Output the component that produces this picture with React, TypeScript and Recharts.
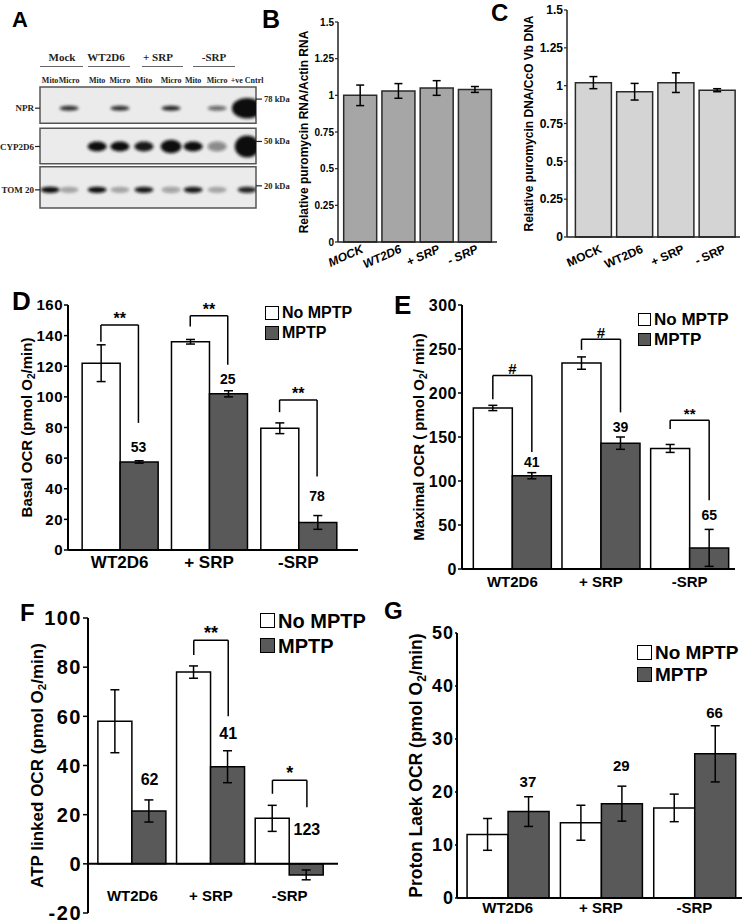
import React from "react";
import {
  Bar,
  BarChart,
  ErrorBar,
  Legend,
  ReferenceArea,
  ReferenceDot,
  ReferenceLine,
  Scatter,
  ScatterChart,
  XAxis,
  YAxis,
} from "recharts";

const SANS = "'Liberation Sans', Arial, Helvetica, sans-serif";
const SERIF = "'Liberation Serif', 'Times New Roman', serif";

// A: western blot, band strength per lane (0 = nothing)
const lanes = ["Mito", "Micro", "Mito", "Micro", "Mito", "Micro", "Mito", "Micro", "+ve Cntrl"];
const laneX = [0.42, 1.21, 2.38, 3.33, 4.33, 5.46, 6.38, 7.38, 8.63];
const laneGroups = ["Mock", "WT2D6", "+ SRP", "-SRP"];
const blotRows = ["NPR", "CYP2D6", "TOM 20"];
const sizeMarkers = ["78 kDa", "50 kDa", "20 kDa"];
const nprBand = [0, 0.85, 0, 0.85, 0, 0.9, 0, 0.6, 1.6];
const cypBand = [0, 0, 1, 1, 0.95, 1.1, 1, 0.45, 1.3];
const tomBand = [1, 0.3, 1, 0.3, 0.95, 0.35, 0.95, 0.3, 0.9];

// B, C
const transfectants = ["MOCK", "WT2D6", "+ SRP", "- SRP"];
const rnaRatio = [1.0, 1.03, 1.05, 1.04];
const rnaErr = [0.07, 0.05, 0.05, 0.02];
const dnaRatio = [1.02, 0.96, 1.02, 0.97];
const dnaErr = [0.04, 0.055, 0.065, 0.01];
const ratioTicks = [0, 0.25, 0.5, 0.75, 1, 1.25, 1.5];

// D-G
const treatments = ["WT2D6", "+ SRP", "-SRP"];
const seriesNames = ["No MPTP", "MPTP"];

const basalNo = [122, 136, 79.5];
const basalNoErr = [12, 1.5, 3.5];
const basalMptp = [57.5, 102, 18];
const basalMptpErr = [0.8, 2, 4.5];
const basalPct = ["53", "25", "78"];
const basalPctY = [67, 112, 35];
const basalMarks = [
  { group: 0, from: 136, top: 147, to: 83, mark: "**" },
  { group: 1, from: 146, top: 153, to: 121, mark: "**" },
  { group: 2, from: 90, top: 98, to: 48, mark: "**" },
];

const maxNo = [183, 234, 137];
const maxNoErr = [3, 7, 4.5];
const maxMptp = [106, 143, 24];
const maxMptpErr = [3.5, 7, 21];
const maxPct = ["41", "39", "65"];
const maxPctY = [122, 161, 61];
const maxMarks = [
  { group: 0, from: 193, top: 220, to: 133, mark: "#" },
  { group: 1, from: 249, top: 261, to: 178, mark: "#" },
  { group: 2, from: 159, top: 169, to: 78, mark: "**" },
];

const atpNo = [58, 78, 18.5];
const atpNoErr = [12.8, 2.5, 5.3];
const atpMptp = [21.5, 39.5, -4.5];
const atpMptpErr = [4.5, 6.5, 2];
const atpPct = ["62", "41", "123"];
const atpPctY = [34.5, 53, 14];
const atpMarks = [
  { group: 1, from: 85, top: 91, to: 60, mark: "**" },
  { group: 2, from: 28.5, top: 34, to: 23, mark: "*" },
];

const leakNo = [12, 14.2, 17];
const leakNoErr = [3, 3.3, 2.6];
const leakMptp = [16.3, 17.8, 27.2];
const leakMptpErr = [2.8, 3.3, 5.3];
const leakPct = ["37", "29", "66"];
const leakPctY = [22, 25, 35];

type Bracket = { group: number; from: number; top: number; to: number; mark: string };

function NumTick({ x, y, payload, font, spacing }: any) {
  return (
    <text
      x={x}
      y={y}
      dy="0.36em"
      textAnchor="end"
      fontFamily={SANS}
      fontWeight="bold"
      fontSize={font}
      fill="#000"
      style={{ letterSpacing: spacing }}
    >
      {payload.value}
    </text>
  );
}

function AxisTitle({ x, y, size, head, sub, tail }: any) {
  return (
    <text
      transform={`translate(${x},${y}) rotate(-90)`}
      textAnchor="middle"
      dominantBaseline="central"
      fontFamily={SANS}
      fontWeight="bold"
      fontSize={size}
      fill="#000"
    >
      {head}
      {sub ? (
        <tspan fontSize={size * 0.68} dy={size * 0.32}>
          {sub}
        </tspan>
      ) : null}
      {sub ? <tspan dy={-size * 0.32}>{tail}</tspan> : null}
    </text>
  );
}

function KeyBox({ payload, font, box, row }: any) {
  const items = [...(payload ?? [])].sort(
    (a: any, b: any) => seriesNames.indexOf(a.value) - seriesNames.indexOf(b.value)
  );
  return (
    <div style={{ fontFamily: SANS }}>
      {items.map((p: any) => (
        <div
          key={p.value}
          style={{ display: "flex", alignItems: "center", height: row, whiteSpace: "nowrap" }}
        >
          <span
            style={{
              display: "inline-block",
              width: box,
              height: box,
              boxSizing: "border-box",
              border: "1.5px solid #000",
              background: p.color,
              marginRight: 3,
            }}
          />
          <span style={{ fontSize: font, fontWeight: "bold", color: "#000", lineHeight: 1 }}>
            {p.value}
          </span>
        </div>
      ))}
    </div>
  );
}

function PanelLetter({ text, left, top, size }: any) {
  return (
    <div
      style={{
        position: "absolute",
        left,
        top,
        fontFamily: SANS,
        fontWeight: "bold",
        fontSize: size,
        lineHeight: 1,
        color: "#000",
      }}
    >
      {text}
    </div>
  );
}

const bandRy = [2.5, 5, 3.2];

function Band({ cx, cy, payload }: any) {
  const lvl = payload.level;
  const grow = Math.max(1, lvl);
  return (
    <ellipse
      cx={cx}
      cy={cy}
      rx={9.5 * grow}
      ry={bandRy[payload.row] * grow ** 3}
      fill="#111"
      fillOpacity={Math.min(1, lvl)}
      filter="url(#bandBlur)"
    />
  );
}

function BlotPanel() {
  const rowY = [2.1, 5.9, 10.2];
  const frames = [
    [0, 3.6],
    [4.1, 7.6],
    [7.9, 12],
  ];
  const markerY = [1.2, 5.4, 9.8];
  const bands = [nprBand, cypBand, tomBand]
    .flatMap((levels, row) =>
      levels.map((level, i) => ({ lane: laneX[i], y: rowY[row], level, row }))
    )
    .filter((b) => b.level > 0);
  const headers = [
    { c: 62, w: 43, l: 40 },
    { c: 106, w: 42, l: 88 },
    { c: 158, w: 41, l: 142 },
    { c: 214, w: 42, l: 193 },
  ];
  return (
    <>
      {laneGroups.map((g, i) => (
        <div key={g}>
          <div
            style={{
              position: "absolute",
              left: headers[i].c - 30,
              width: 60,
              top: 51,
              textAlign: "center",
              fontFamily: SERIF,
              fontWeight: "bold",
              fontSize: 11,
              color: "#222",
            }}
          >
            {g}
          </div>
          <div
            style={{
              position: "absolute",
              left: headers[i].l,
              width: headers[i].w,
              top: 66,
              height: 0,
              borderTop: "1px solid #666",
            }}
          />
        </div>
      ))}
      <div style={{ position: "absolute", left: 0, top: 40 }}>
        <ScatterChart width={296} height={175} margin={{ top: 33, right: 0, bottom: 7, left: 0 }}>
          <defs>
            <filter id="bandBlur" x="-50%" y="-150%" width="200%" height="400%">
              <feGaussianBlur stdDeviation="1.4" />
            </filter>
          </defs>
          <XAxis
            type="number"
            dataKey="lane"
            orientation="top"
            domain={[0, 9]}
            allowDataOverflow
            ticks={laneX}
            interval={0}
            height={14}
            axisLine={false}
            tickLine={false}
            tickSize={0}
            tickMargin={0}
            tick={(p: any) => (
              <text
                x={p.x}
                y={p.y - 4}
                textAnchor="middle"
                fontFamily={SERIF}
                fontWeight="bold"
                fontSize={8}
                fill="#222"
              >
                {lanes[laneX.indexOf(p.payload.value)]}
              </text>
            )}
          />
          <YAxis
            type="number"
            dataKey="y"
            domain={[0, 12]}
            allowDataOverflow
            reversed
            ticks={rowY}
            interval={0}
            width={40}
            axisLine={false}
            tickLine={{ stroke: "#222", strokeWidth: 1.2 }}
            tickSize={5}
            tickMargin={1}
            tick={(p: any) => (
              <text
                x={p.x}
                y={p.y}
                dy="0.35em"
                textAnchor="end"
                fontFamily={SERIF}
                fontWeight="bold"
                fontSize={9}
                fill="#222"
              >
                {blotRows[rowY.indexOf(p.payload.value)]}
              </text>
            )}
          />
          <YAxis
            yAxisId="kda"
            orientation="right"
            type="number"
            domain={[0, 12]}
            allowDataOverflow
            reversed
            ticks={markerY}
            interval={0}
            width={40}
            axisLine={false}
            tickLine={{ stroke: "#222", strokeWidth: 1.2 }}
            tickSize={6}
            tickMargin={2}
            tick={(p: any) => (
              <text
                x={p.x}
                y={p.y}
                dy="0.35em"
                textAnchor="start"
                fontFamily={SERIF}
                fontWeight="bold"
                fontSize={8.5}
                fill="#222"
              >
                {sizeMarkers[markerY.indexOf(p.payload.value)]}
              </text>
            )}
          />
          {frames.map((f, i) => (
            <ReferenceArea
              key={i}
              x1={0}
              x2={9}
              y1={f[0]}
              y2={f[1]}
              fill="#ebebeb"
              fillOpacity={1}
              stroke="#555"
              strokeWidth={1.5}
            />
          ))}
          <Scatter data={bands} shape={(p: any) => <Band {...p} />} isAnimationActive={false} />
        </ScatterChart>
      </div>
    </>
  );
}

type RatioSpec = {
  left: number;
  top: number;
  width: number;
  height: number;
  margin: { top: number; right: number; bottom: number; left: number };
  pad: { left: number; right: number };
  gap: number;
  values: number[];
  errs: number[];
  fill: string;
  head: string;
  titleX: number;
  tickFont: number;
  xFont: number;
  italic: boolean;
  slant: [number, number];
};

function RatioPanel({ s }: { s: RatioSpec }) {
  const rows = transfectants.map((name, i) => ({ name, v: s.values[i], e: s.errs[i] }));
  const xHeight = 40;
  const plotH = s.height - s.margin.top - s.margin.bottom - xHeight;
  return (
    <div style={{ position: "absolute", left: s.left, top: s.top }}>
      <BarChart
        width={s.width}
        height={s.height}
        data={rows}
        margin={s.margin}
        barCategoryGap={`${s.gap * 100}%`}
      >
        <XAxis
          dataKey="name"
          interval={0}
          padding={s.pad}
          height={xHeight}
          axisLine={{ stroke: "#222", strokeWidth: 1.5 }}
          tickLine={false}
          tickSize={0}
          tickMargin={0}
          tick={(p: any) => (
            <text
              transform={`translate(${p.x + s.slant[0]},${p.y + s.slant[1]}) rotate(-24)`}
              textAnchor="end"
              fontFamily={SANS}
              fontWeight="bold"
              fontStyle={s.italic ? "italic" : "normal"}
              fontSize={s.xFont}
              fill="#000"
            >
              {p.payload.value}
            </text>
          )}
        />
        <YAxis
          type="number"
          domain={[0, 1.5]}
          ticks={ratioTicks}
          interval={0}
          width={30}
          axisLine={{ stroke: "#222", strokeWidth: 1.5 }}
          tickLine={{ stroke: "#222", strokeWidth: 1.2 }}
          tickSize={3}
          tickMargin={1}
          tick={(p: any) => <NumTick {...p} font={s.tickFont} spacing={0} />}
          label={() => (
            <AxisTitle x={s.titleX} y={s.margin.top + plotH / 2} size={12} head={s.head} />
          )}
        />
        <Bar dataKey="v" fill={s.fill} stroke="#2a2a2a" strokeWidth={1.5} isAnimationActive={false}>
          <ErrorBar dataKey="e" width={4} stroke="#000" strokeWidth={1.5} />
        </Bar>
      </BarChart>
    </div>
  );
}

type OcrSpec = {
  left: number;
  top: number;
  width: number;
  height: number;
  margin: { top: number; right: number; bottom: number; left: number };
  yWidth: number;
  xHeight: number;
  pad: { left: number; right: number };
  domain: [number, number];
  ticks: number[];
  gap: number;
  no: number[];
  noErr: number[];
  mptp: number[];
  mptpErr: number[];
  pct: string[];
  pctY: number[];
  brackets: Bracket[];
  head: string;
  tail: string;
  titleX: number;
  titleSize: number;
  tickFont: number;
  tickSpacing: number;
  tickLen: number;
  xFont: number;
  xDy: number;
  xLine: boolean;
  zeroLine: boolean;
  noteFont: number;
  markFont: number;
  key: { x: number; y: number; font: number; box: number; row: number };
};

function OcrPanel({ s }: { s: OcrSpec }) {
  const rows = treatments.map((name, i) => ({
    name,
    slot: i + 0.5,
    no: s.no[i],
    noErr: s.noErr[i],
    mptp: s.mptp[i],
    mptpErr: s.mptpErr[i],
  }));
  const barW = (1 - 2 * s.gap) / 2;
  const whiteX = (g: number) => g + s.gap + barW / 2;
  const darkX = (g: number) => g + s.gap + barW * 1.5;
  const plotH = s.height - s.margin.top - s.margin.bottom - s.xHeight;
  const line = { stroke: "#000", strokeWidth: 1.5 };
  return (
    <div style={{ position: "absolute", left: s.left, top: s.top }}>
      <BarChart
        width={s.width}
        height={s.height}
        data={rows}
        margin={s.margin}
        barGap={0}
        barCategoryGap={`${s.gap * 100}%`}
      >
        <XAxis
          dataKey="name"
          interval={0}
          padding={s.pad}
          height={s.xHeight}
          axisLine={s.xLine ? { stroke: "#000", strokeWidth: 2 } : false}
          tickLine={false}
          tickSize={0}
          tickMargin={0}
          tick={(p: any) => (
            <text
              x={p.x}
              y={p.y + s.xDy}
              textAnchor="middle"
              fontFamily={SANS}
              fontWeight="bold"
              fontSize={s.xFont}
              fill="#000"
            >
              {p.payload.value}
            </text>
          )}
        />
        <XAxis
          xAxisId="pos"
          dataKey="slot"
          type="number"
          domain={[0, 3]}
          allowDataOverflow
          hide
          padding={s.pad}
        />
        <YAxis
          type="number"
          domain={s.domain}
          allowDataOverflow
          ticks={s.ticks}
          interval={0}
          width={s.yWidth}
          axisLine={{ stroke: "#000", strokeWidth: 2 }}
          tickLine={{ stroke: "#000", strokeWidth: 1.5 }}
          tickSize={s.tickLen}
          tickMargin={1}
          tick={(p: any) => <NumTick {...p} font={s.tickFont} spacing={s.tickSpacing} />}
          label={() => (
            <AxisTitle
              x={s.titleX}
              y={s.margin.top + plotH / 2}
              size={s.titleSize}
              head={s.head}
              sub="2"
              tail={s.tail}
            />
          )}
        />
        <Bar dataKey="no" name={seriesNames[0]} fill="#ffffff" stroke="#000" strokeWidth={1.5} isAnimationActive={false}>
          <ErrorBar dataKey="noErr" width={4.5} stroke="#000" strokeWidth={1.5} />
        </Bar>
        <Bar dataKey="mptp" name={seriesNames[1]} fill="#595959" stroke="#000" strokeWidth={1.5} isAnimationActive={false}>
          <ErrorBar dataKey="mptpErr" width={4.5} stroke="#000" strokeWidth={1.5} />
        </Bar>
        {s.zeroLine ? <ReferenceLine y={0} stroke="#000" strokeWidth={2} /> : null}
        {s.brackets.map((b) => (
          <React.Fragment key={`br${b.group}`}>
            <ReferenceLine
              xAxisId="pos"
              segment={[
                { x: whiteX(b.group), y: b.from },
                { x: whiteX(b.group), y: b.top },
              ]}
              {...line}
            />
            <ReferenceLine
              xAxisId="pos"
              segment={[
                { x: whiteX(b.group), y: b.top },
                { x: darkX(b.group), y: b.top },
              ]}
              {...line}
            />
            <ReferenceLine
              xAxisId="pos"
              segment={[
                { x: darkX(b.group), y: b.top },
                { x: darkX(b.group), y: b.to },
              ]}
              {...line}
            />
            <ReferenceDot
              xAxisId="pos"
              x={b.group + 0.5}
              y={b.top}
              r={0}
              shape={(p: any) => (
                <text
                  x={p.cx}
                  y={p.cy - 1}
                  textAnchor="middle"
                  fontFamily={SANS}
                  fontWeight="bold"
                  fontSize={s.markFont}
                  fill="#000"
                >
                  {b.mark}
                </text>
              )}
            />
          </React.Fragment>
        ))}
        {s.pct.map((t, g) => (
          <ReferenceDot
            key={`pct${g}`}
            xAxisId="pos"
            x={darkX(g)}
            y={s.pctY[g]}
            r={0}
            shape={(p: any) => (
              <text
                x={p.cx}
                y={p.cy}
                dominantBaseline="central"
                textAnchor="middle"
                fontFamily={SANS}
                fontWeight="bold"
                fontSize={s.noteFont}
                fill="#000"
              >
                {t}
              </text>
            )}
          />
        ))}
        <Legend
          layout="vertical"
          align="center"
          verticalAlign="middle"
          wrapperStyle={{ left: s.key.x, top: s.key.y, width: 130, height: "auto" }}
          content={(p: any) => (
            <KeyBox {...p} font={s.key.font} box={s.key.box} row={s.key.row} />
          )}
        />
      </BarChart>
    </div>
  );
}

const panelB: RatioSpec = {
  left: 260,
  top: 0,
  width: 240,
  height: 290,
  margin: { top: 22, right: 3, bottom: 8, left: 48 },
  pad: { left: 3, right: 3 },
  gap: 0.07,
  values: rnaRatio,
  errs: rnaErr,
  fill: "#a6a6a6",
  head: "Relative puromycin RNA/Actin RNA",
  titleX: 44,
  tickFont: 10,
  xFont: 12,
  italic: true,
  slant: [4, 10],
};

const panelC: RatioSpec = {
  left: 490,
  top: 0,
  width: 255,
  height: 290,
  margin: { top: 10, right: 5, bottom: 13, left: 47 },
  pad: { left: 6, right: 2 },
  gap: 0.058,
  values: dnaRatio,
  errs: dnaErr,
  fill: "#d4d4d4",
  head: "Relative puromycin DNA/CcO Vb DNA",
  titleX: 39,
  tickFont: 12,
  xFont: 12,
  italic: false,
  slant: [9, 15],
};

const panelD: OcrSpec = {
  left: 0,
  top: 290,
  width: 370,
  height: 300,
  margin: { top: 15, right: 12, bottom: 10, left: 30 },
  yWidth: 38,
  xHeight: 30,
  pad: { left: 7, right: 15 },
  domain: [0, 160],
  ticks: [0, 20, 40, 60, 80, 100, 120, 140, 160],
  gap: 0.08,
  no: basalNo,
  noErr: basalNoErr,
  mptp: basalMptp,
  mptpErr: basalMptpErr,
  pct: basalPct,
  pctY: basalPctY,
  brackets: basalMarks,
  head: "Basal OCR (pmol O",
  tail: "/min)",
  titleX: 26,
  titleSize: 15,
  tickFont: 15,
  tickSpacing: 0.5,
  tickLen: 4,
  xFont: 17,
  xDy: 18,
  xLine: true,
  zeroLine: false,
  noteFont: 14,
  markFont: 16,
  key: { x: 265, y: 13, font: 16, box: 14, row: 20 },
};

const panelE: OcrSpec = {
  left: 380,
  top: 290,
  width: 365,
  height: 310,
  margin: { top: 15, right: 10, bottom: 6, left: 42 },
  yWidth: 40,
  xHeight: 25,
  pad: { left: 6, right: 1 },
  domain: [0, 300],
  ticks: [0, 50, 100, 150, 200, 250, 300],
  gap: 0.06,
  no: maxNo,
  noErr: maxNoErr,
  mptp: maxMptp,
  mptpErr: maxMptpErr,
  pct: maxPct,
  pctY: maxPctY,
  brackets: maxMarks,
  head: "Maximal OCR ( pmol O",
  tail: "/ min)",
  titleX: 38,
  titleSize: 15,
  tickFont: 16,
  tickSpacing: 0.5,
  tickLen: 4,
  xFont: 15,
  xDy: 18,
  xLine: true,
  zeroLine: false,
  noteFont: 14,
  markFont: 15,
  key: { x: 258, y: 19, font: 17, box: 13, row: 20 },
};

const panelF: OcrSpec = {
  left: 0,
  top: 600,
  width: 370,
  height: 323,
  margin: { top: 18, right: 32, bottom: 8, left: 42 },
  yWidth: 46,
  xHeight: 2,
  pad: { left: 5, right: 9 },
  domain: [-20, 100],
  ticks: [-20, 0, 20, 40, 60, 80, 100],
  gap: 0.062,
  no: atpNo,
  noErr: atpNoErr,
  mptp: atpMptp,
  mptpErr: atpMptpErr,
  pct: atpPct,
  pctY: atpPctY,
  brackets: atpMarks,
  head: "ATP linked OCR (pmol O",
  tail: "/min)",
  titleX: 37,
  titleSize: 17,
  tickFont: 20,
  tickSpacing: 1.5,
  tickLen: 5,
  xFont: 15,
  xDy: -12,
  xLine: false,
  zeroLine: true,
  noteFont: 16,
  markFont: 18,
  key: { x: 260, y: 8, font: 20, box: 15, row: 25 },
};

const panelG: OcrSpec = {
  left: 380,
  top: 600,
  width: 365,
  height: 323,
  margin: { top: 33, right: 3, bottom: 5, left: 37 },
  yWidth: 40,
  xHeight: 20,
  pad: { left: 4, right: 1 },
  domain: [0, 50],
  ticks: [0, 10, 20, 30, 40, 50],
  gap: 0.065,
  no: leakNo,
  noErr: leakNoErr,
  mptp: leakMptp,
  mptpErr: leakMptpErr,
  pct: leakPct,
  pctY: leakPctY,
  brackets: [],
  head: "Proton Laek OCR (pmol O",
  tail: "/min)",
  titleX: 36,
  titleSize: 17.5,
  tickFont: 18,
  tickSpacing: 1,
  tickLen: 2,
  xFont: 15,
  xDy: 15,
  xLine: true,
  zeroLine: false,
  noteFont: 15,
  markFont: 16,
  key: { x: 257, y: 41, font: 19, box: 15, row: 22 },
};

export default function App() {
  return (
    <div
      style={{
        position: "absolute",
        left: 0,
        top: 0,
        width: 745,
        height: 923,
        background: "#fff",
        overflow: "hidden",
        fontFamily: SANS,
      }}
    >
      <BlotPanel />
      <RatioPanel s={panelB} />
      <RatioPanel s={panelC} />
      <OcrPanel s={panelD} />
      <OcrPanel s={panelE} />
      <OcrPanel s={panelF} />
      <OcrPanel s={panelG} />
      <PanelLetter text="A" left={12} top={9} size={22} />
      <PanelLetter text="B" left={262} top={7} size={25} />
      <PanelLetter text="C" left={491} top={1} size={24} />
      <PanelLetter text="D" left={12} top={288} size={26} />
      <PanelLetter text="E" left={394} top={292} size={26} />
      <PanelLetter text="F" left={20} top={601} size={24} />
      <PanelLetter text="G" left={384} top={599} size={24} />
    </div>
  );
}
